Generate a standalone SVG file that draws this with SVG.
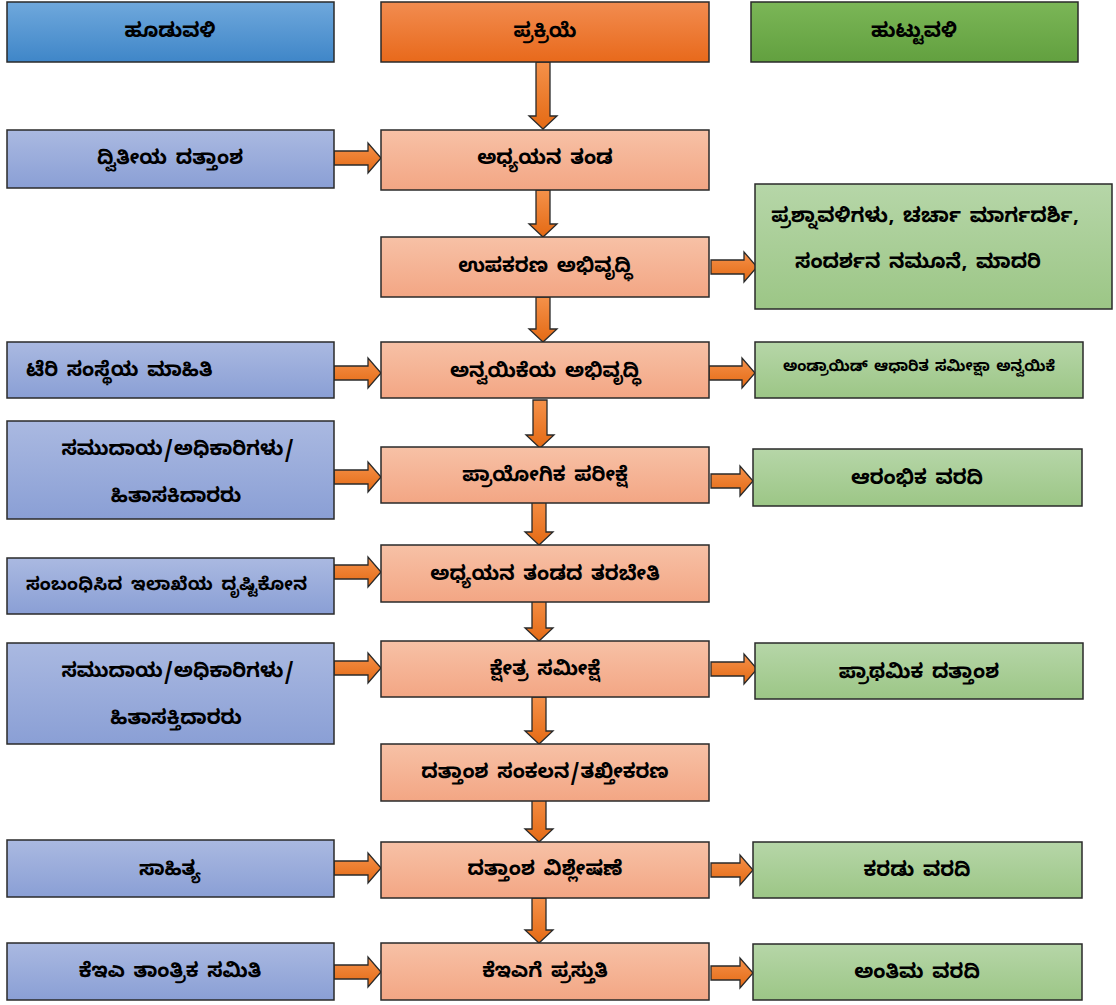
<svg xmlns="http://www.w3.org/2000/svg" width="1116" height="1005" viewBox="0 0 1116 1005">
<defs>
<linearGradient id="gHb" x1="0" y1="0" x2="0" y2="1"><stop offset="0" stop-color="#6fa8dc"/><stop offset="1" stop-color="#3f86c8"/></linearGradient>
<linearGradient id="gHo" x1="0" y1="0" x2="0" y2="1"><stop offset="0" stop-color="#f28c50"/><stop offset="1" stop-color="#e8691b"/></linearGradient>
<linearGradient id="gHg" x1="0" y1="0" x2="0" y2="1"><stop offset="0" stop-color="#7bb657"/><stop offset="1" stop-color="#62a03f"/></linearGradient>
<linearGradient id="gB" x1="0" y1="0" x2="0" y2="1"><stop offset="0" stop-color="#aab9e1"/><stop offset="1" stop-color="#8a9fd5"/></linearGradient>
<linearGradient id="gO" x1="0" y1="0" x2="0" y2="1"><stop offset="0" stop-color="#f7c1a6"/><stop offset="1" stop-color="#f3a684"/></linearGradient>
<linearGradient id="gG" x1="0" y1="0" x2="0" y2="1"><stop offset="0" stop-color="#b6d6a8"/><stop offset="1" stop-color="#9cc686"/></linearGradient>
<linearGradient id="gA" x1="0" y1="0" x2="0" y2="1"><stop offset="0" stop-color="#f5914a"/><stop offset="1" stop-color="#e46a14"/></linearGradient>
</defs>
<style>
.hb{fill:url(#gHb)}.ho{fill:url(#gHo)}.hg{fill:url(#gHg)}
.b{fill:url(#gB)}.o{fill:url(#gO)}.g{fill:url(#gG)}
rect{stroke:#2a2a2a;stroke-width:1.5}
.arr polygon{fill:url(#gA);stroke:#2a2a2a;stroke-width:1.3;stroke-linejoin:miter}
text{font-family:"Noto Sans Kannada","Noto Sans",sans-serif;font-weight:bold;font-size:20px;word-spacing:3px;fill:#000;text-anchor:middle;dominant-baseline:central}
.l{text-anchor:start}
.s{font-size:15px;word-spacing:2px}
.m{font-size:18px;word-spacing:3px}
</style>

<g id="connectors" class="arr">
<polygon points="536,62 550,62 550,116 557,116 543,129 529,116 536,116"/>
<polygon points="536,190 550,190 550,224 557,224 543,237 529,224 536,224"/>
<polygon points="536,297 550,297 550,329 557,329 543,342 529,329 536,329"/>
<polygon points="533,400 547,400 547,435 554,435 540,448 526,435 533,435"/>
<polygon points="532,497 546,497 546,532 553,532 539,545 525,532 532,532"/>
<polygon points="532,596 546,596 546,628 553,628 539,641 525,628 532,628"/>
<polygon points="532,697 546,697 546,731 553,731 539,744 525,731 532,731"/>
<polygon points="532,792 546,792 546,829 553,829 539,842 525,829 532,829"/>
<polygon points="532,898 546,898 546,930 553,930 539,943 525,930 532,930"/>

<polygon points="334,151 368,151 368,143 381,158 368,173 368,165 334,165"/>
<polygon points="334,366 368,366 368,358 381,373 368,388 368,380 334,380"/>
<polygon points="334,470 368,470 368,462 381,477 368,492 368,484 334,484"/>
<polygon points="334,565 368,565 368,557 381,572 368,587 368,579 334,579"/>
<polygon points="334,661 368,661 368,653 381,668 368,683 368,675 334,675"/>
<polygon points="334,861 368,861 368,853 381,868 368,883 368,875 334,875"/>
<polygon points="334,965 368,965 368,957 381,972 368,987 368,979 334,979"/>

<polygon points="711,260 744,260 744,252 757,267 744,282 744,274 711,274"/>
<polygon points="709,366 742,366 742,358 755,373 742,388 742,380 709,380"/>
<polygon points="711,474 740,474 740,466 753,481 740,496 740,488 711,488"/>
<polygon points="711,662 744,662 744,654 757,669 744,684 744,676 711,676"/>
<polygon points="711,863 740,863 740,855 753,870 740,885 740,877 711,877"/>
<polygon points="711,966 740,966 740,958 753,973 740,988 740,980 711,980"/>
</g>

<g id="h-input"><rect class="hb" x="7" y="2" width="327" height="60"/><text x="170" y="34">ಹೂಡುವಳಿ</text></g>
<g id="h-process"><rect class="ho" x="381" y="2" width="328" height="60"/><text x="545" y="34">ಪ್ರಕ್ರಿಯೆ</text></g>
<g id="h-output"><rect class="hg" x="751" y="2" width="327" height="60"/><text x="914" y="34">ಹುಟ್ಟುವಳಿ</text></g>

<g id="in1"><rect class="b" x="7" y="130" width="327" height="58"/><text x="170" y="161">ದ್ವಿತೀಯ ದತ್ತಾಂಶ</text></g>
<g id="in2"><rect class="b" x="7" y="342" width="327" height="56"/><text class="l" x="26" y="373">ಟೆರಿ ಸಂಸ್ಥೆಯ ಮಾಹಿತಿ</text></g>
<g id="in3"><rect class="b" x="7" y="421" width="327" height="98"/><text x="178" y="452">ಸಮುದಾಯ/ಅಧಿಕಾರಿಗಳು/</text><text x="176" y="499">ಹಿತಾಸಕಿದಾರರು</text></g>
<g id="in4"><rect class="b" x="7" y="558" width="327" height="56"/><text class="l m" x="26" y="587" textLength="281" lengthAdjust="spacing">ಸಂಬಂಧಿಸಿದ ಇಲಾಖೆಯ ದೃಷ್ಟಿಕೋನ</text></g>
<g id="in5"><rect class="b" x="7" y="643" width="327" height="101"/><text x="178" y="674">ಸಮುದಾಯ/ಅಧಿಕಾರಿಗಳು/</text><text x="176" y="721">ಹಿತಾಸಕ್ತಿದಾರರು</text></g>
<g id="in6"><rect class="b" x="7" y="840" width="327" height="57"/><text x="170" y="872">ಸಾಹಿತ್ಯ</text></g>
<g id="in7"><rect class="b" x="7" y="943" width="327" height="57"/><text x="170" y="974">ಕೆಇಎ ತಾಂತ್ರಿಕ ಸಮಿತಿ</text></g>

<g id="p1"><rect class="o" x="381" y="130" width="328" height="60"/><text x="545" y="161">ಅಧ್ಯಯನ ತಂಡ</text></g>
<g id="p2"><rect class="o" x="381" y="237" width="328" height="60"/><text x="545" y="269">ಉಪಕರಣ ಅಭಿವೃದ್ಧಿ</text></g>
<g id="p3"><rect class="o" x="381" y="342" width="328" height="56"/><text x="545" y="374">ಅನ್ವಯಿಕೆಯ ಅಭಿವೃದ್ಧಿ</text></g>
<g id="p4"><rect class="o" x="381" y="447" width="328" height="56"/><text x="545" y="478">ಪ್ರಾಯೋಗಿಕ ಪರೀಕ್ಷೆ</text></g>
<g id="p5"><rect class="o" x="381" y="545" width="328" height="57"/><text x="545" y="577">ಅಧ್ಯಯನ ತಂಡದ ತರಬೇತಿ</text></g>
<g id="p6"><rect class="o" x="381" y="641" width="328" height="56"/><text x="545" y="672">ಕ್ಷೇತ್ರ ಸಮೀಕ್ಷೆ</text></g>
<g id="p7"><rect class="o" x="381" y="744" width="328" height="57"/><text x="545" y="775">ದತ್ತಾಂಶ ಸಂಕಲನ/ತಖ್ತೀಕರಣ</text></g>
<g id="p8"><rect class="o" x="381" y="842" width="328" height="56"/><text x="545" y="872">ದತ್ತಾಂಶ ವಿಶ್ಲೇಷಣೆ</text></g>
<g id="p9"><rect class="o" x="381" y="943" width="328" height="57"/><text x="545" y="974">ಕೆಇಎಗೆ ಪ್ರಸ್ತುತಿ</text></g>

<g id="o1"><rect class="g" x="755" y="184" width="357" height="125"/><text x="925" y="219">ಪ್ರಶ್ನಾವಳಿಗಳು, ಚರ್ಚಾ ಮಾರ್ಗದರ್ಶಿ,</text><text x="918" y="265">ಸಂದರ್ಶನ ನಮೂನೆ, ಮಾದರಿ</text></g>
<g id="o2"><rect class="g" x="755" y="342" width="328" height="56"/><text class="s" x="919" y="369">ಅಂಡ್ರಾಯಿಡ್ ಆಧಾರಿತ ಸಮೀಕ್ಷಾ ಅನ್ವಯಿಕೆ</text></g>
<g id="o3"><rect class="g" x="753" y="449" width="329" height="57"/><text x="917" y="481">ಆರಂಭಿಕ ವರದಿ</text></g>
<g id="o4"><rect class="g" x="755" y="643" width="328" height="56"/><text x="919" y="675">ಪ್ರಾಥಮಿಕ ದತ್ತಾಂಶ</text></g>
<g id="o5"><rect class="g" x="753" y="842" width="329" height="56"/><text x="917" y="873">ಕರಡು ವರದಿ</text></g>
<g id="o6"><rect class="g" x="753" y="944" width="329" height="56"/><text x="917" y="975">ಅಂತಿಮ ವರದಿ</text></g>
</svg>
